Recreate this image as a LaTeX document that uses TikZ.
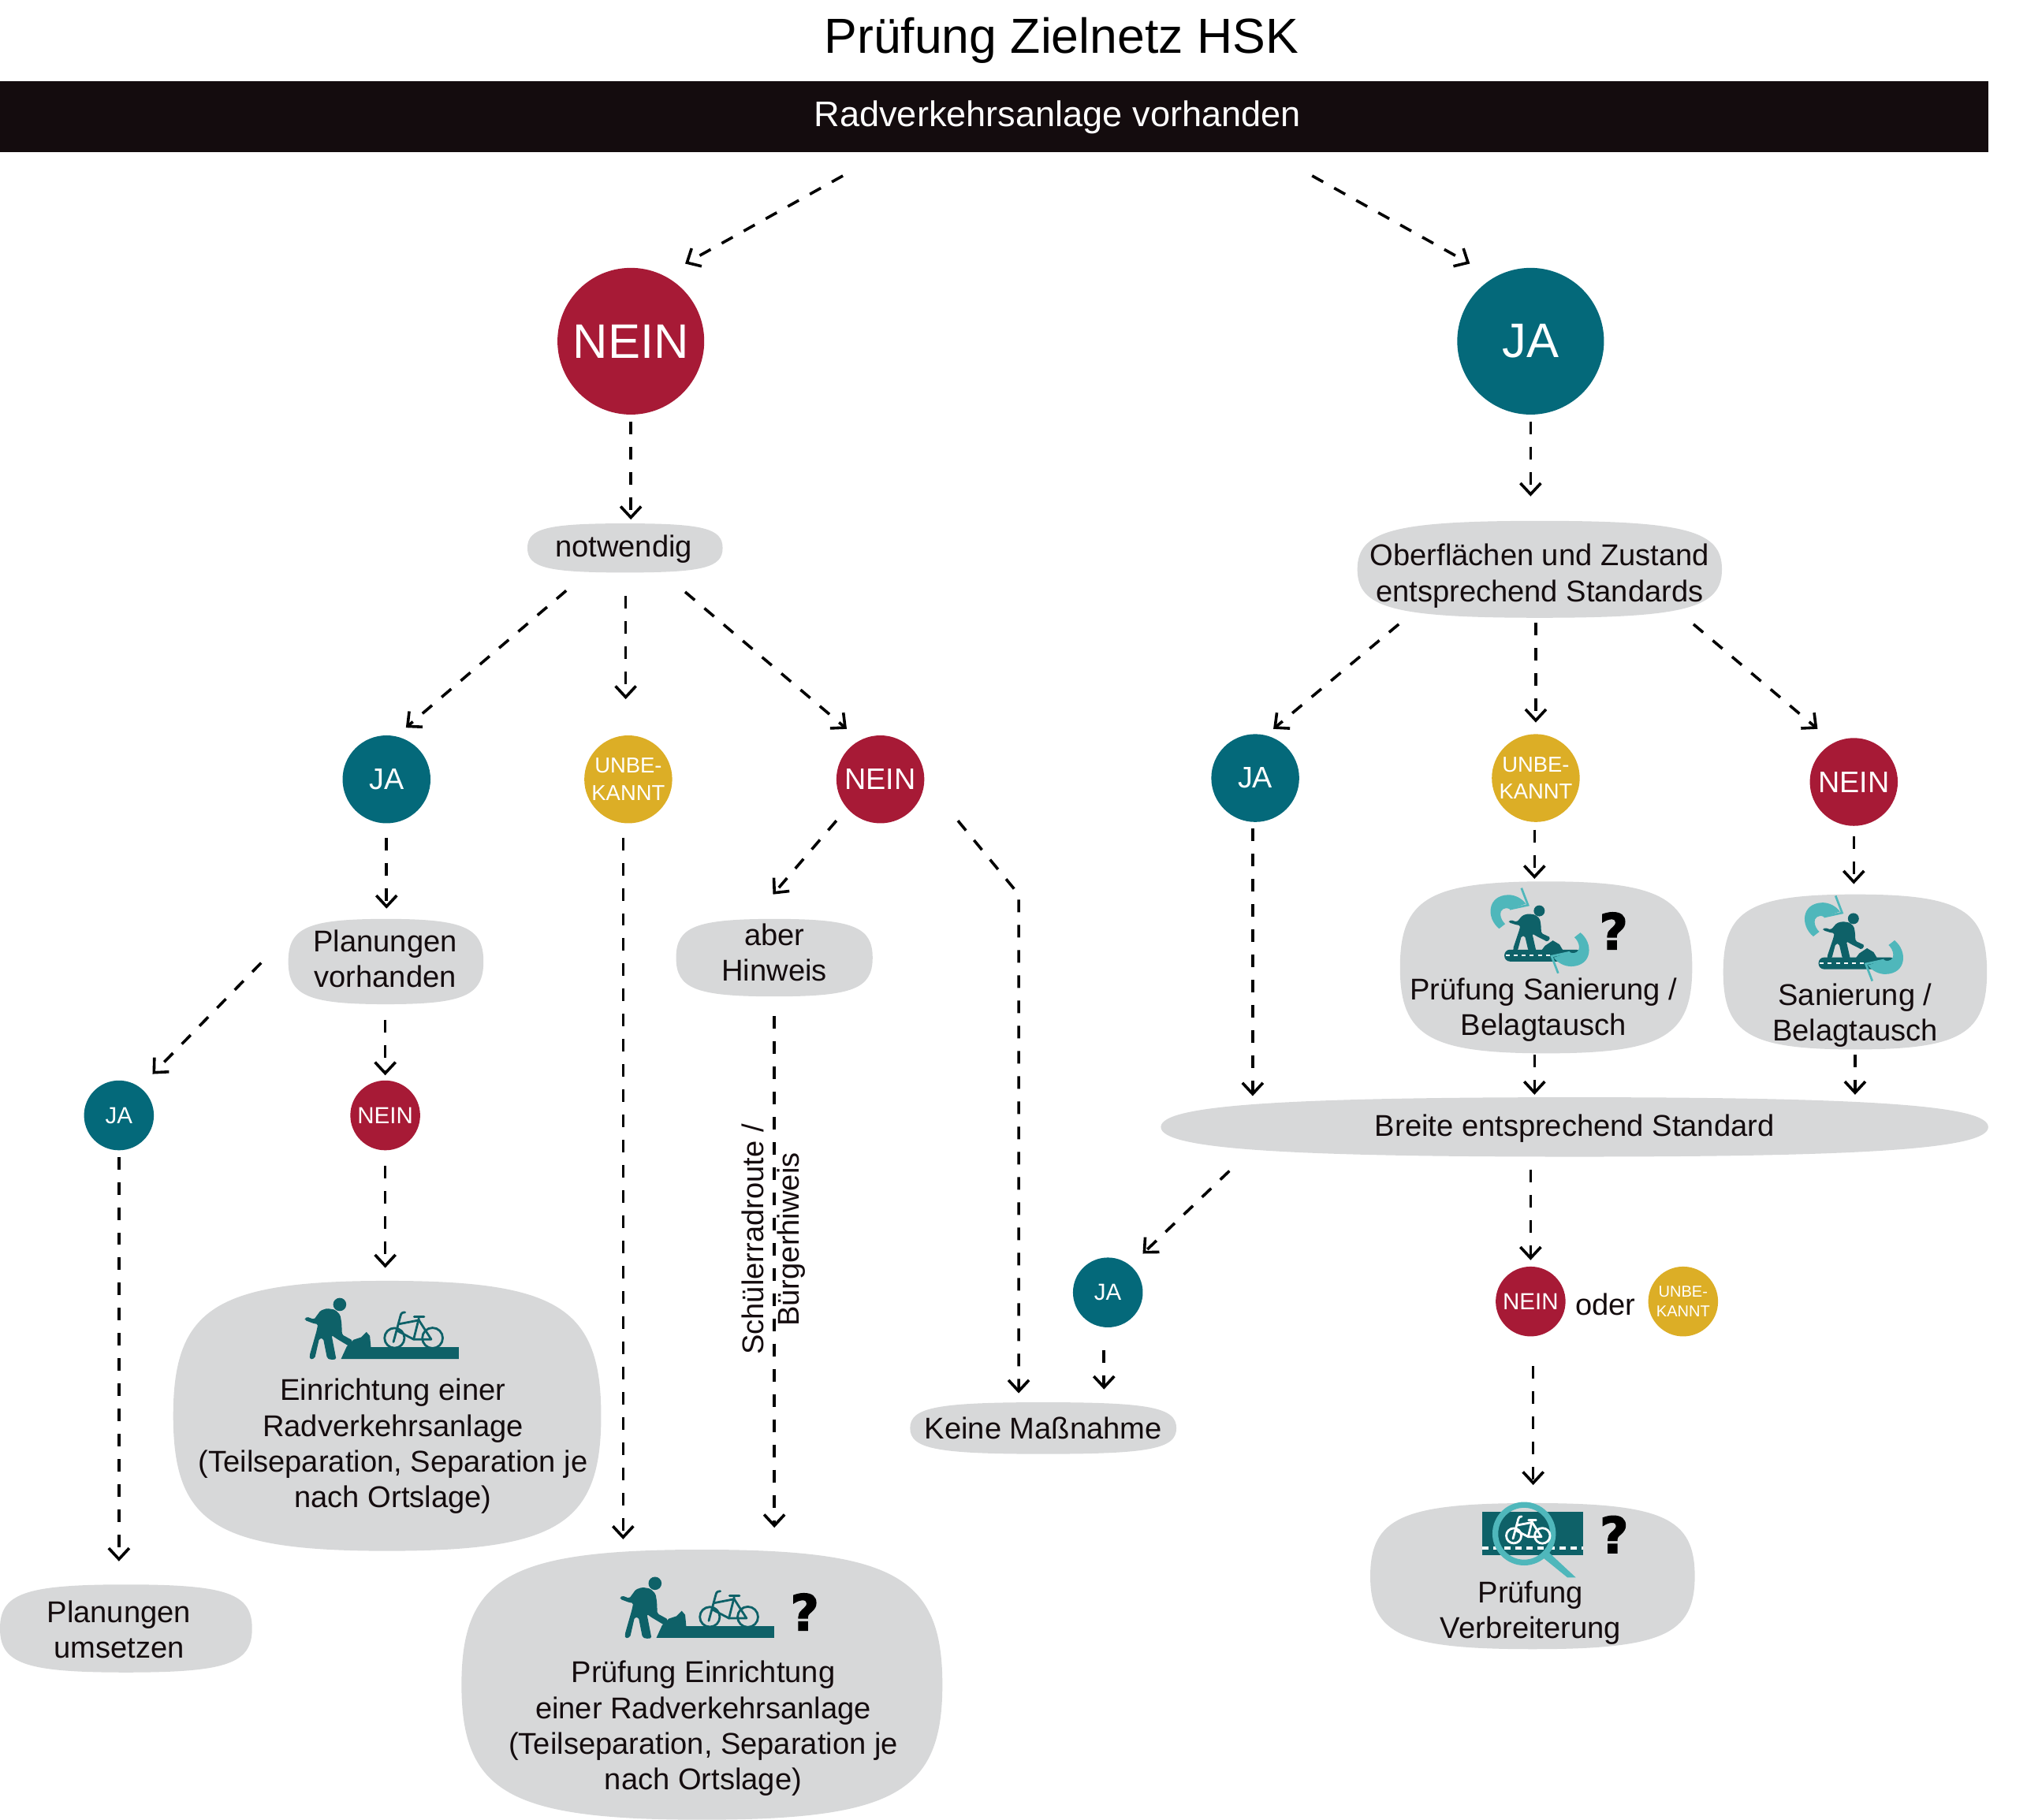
\documentclass[tikz,border=0pt]{standalone}
\usepackage{fontspec}
\setmainfont{Liberation Sans}
\newfontfamily\qfont[BoldFeatures={FakeBold=2}]{DejaVu Sans}
\usetikzlibrary{arrows.meta,calc}
\definecolor{cred}{HTML}{A71A36}
\definecolor{cteal}{HTML}{04697A}
\definecolor{cyell}{HTML}{DCAE26}
\definecolor{cgray}{HTML}{D7D8D9}
\definecolor{cicon}{HTML}{0E6168}
\definecolor{ccyan}{HTML}{4FB7BB}
\definecolor{cink}{HTML}{140C0E}
\def\uu{0.016397cm}
\tikzset{
  conn/.style={draw=black,line width=0.036cm,dash pattern=on 0.16cm off 0.16cm,-{Straight Barb[length=0.14cm,width=0.26cm]}},
  txt/.style={font=\fontsize{10.85}{12.9}\selectfont,text=cink,align=center,inner sep=0pt},
  shapebox/.style={inner sep=0pt,outer sep=0pt,draw=none},
  circbig/.style={circle,inner sep=0pt,outer sep=0pt,minimum size=113.5*\uu,text=white,font=\fontsize{17.5}{20}\selectfont},
  circmid/.style={circle,inner sep=0pt,outer sep=0pt,minimum size=68*\uu,text=white,align=center,font=\fontsize{10.75}{13}\selectfont},
  circsmall/.style={circle,inner sep=0pt,outer sep=0pt,minimum size=54*\uu,text=white,align=center,font=\fontsize{8.4}{10}\selectfont},
  unkmid/.style={circmid,fill=cyell,font=\fontsize{7.8}{9.8}\selectfont},
  unksmall/.style={circsmall,fill=cyell,font=\fontsize{5.7}{7}\selectfont},
  qmark/.style={font=\qfont\bfseries\fontsize{18}{20}\selectfont,text=black,inner sep=0pt},
  iconscope/.style={x=0.003333cm,y=-0.003333cm}
}
% blob: name, cx, cy, half width, half height, kappa
\newcommand\blob[6]{%
  \fill[cgray] (#2-#4,#3) .. controls (#2-#4,#3-#6*#5) and (#2-#6*#4,#3-#5) .. (#2,#3-#5)
     .. controls (#2+#6*#4,#3-#5) and (#2+#4,#3-#6*#5) .. (#2+#4,#3)
     .. controls (#2+#4,#3+#6*#5) and (#2+#6*#4,#3+#5) .. (#2,#3+#5)
     .. controls (#2-#6*#4,#3+#5) and (#2-#4,#3+#6*#5) .. (#2-#4,#3) -- cycle;
  \node[shapebox,minimum width=2*#4*\uu,minimum height=2*#5*\uu] (#1) at (#2,#3) {};
}
\newcommand\wkbody{%
  \fill[cicon,rounded corners=0.5pt] (80,128) -- (88,122) -- (115,132) -- (140,98) -- (165,90) -- (195,95) -- (215,115) -- (220,145) -- (222,190) -- (262,212) -- (250,235) -- (200,205) -- (182,192) -- (198,275) -- (200,284) -- (178,286) -- (165,280) -- (150,205) -- (135,205) -- (118,280) -- (100,285) -- (98,270) -- (125,175) -- (130,150) -- (115,148) -- (80,135) -- cycle;
}
\newcommand\bikefig[1]{%
  \begin{scope}[draw=#1,line width=0.028cm,line cap=round,line join=round]
  \draw (422,203) circle (38);
  \draw (567,203) circle (39);
  \draw (418,218) -- (445,118) .. controls (447,108) and (452,105) .. (462,105);
  \draw (437,150) -- (515,135);
  \draw (432,175) -- (495,208) -- (515,128);
  \draw (515,135) -- (562,208) -- (495,208);
  \draw (497,122) -- (535,122);
  \end{scope}
}
\newcommand\iconbuild{%
  \fill[cicon] (213,75) circle (25);
  \wkbody
  \fill[cicon] (218,283) -- (240,235) -- (265,210) -- (295,200) -- (315,180) -- (328,195) -- (332,238) -- (667,238) -- (667,283) -- cycle;
  \bikefig{cicon}
}
\newcommand\cyanarrow{%
  \fill[ccyan] (65,160) .. controls (15,120) and (18,33) .. (100,31) .. controls (125,31) and (150,43) .. (167,65) -- (105,85) .. controls (85,75) and (68,90) .. (70,105) .. controls (70,120) and (80,135) .. (88,142) -- cycle;
  \draw[ccyan,line width=0.027cm] (150,5) -- (175,70) -- (105,85);
}
\newcommand\iconrenew{%
  \fill[cicon] (218,92) circle (21);
  \begin{scope}[shift={(32.7,36.5)},xscale=0.87,yscale=0.74]\wkbody\end{scope}
  \fill[cicon] (225,245) -- (240,225) -- (270,205) -- (295,220) -- (310,245) -- cycle;
  \fill[cicon,rounded corners=2pt] (85,240) rectangle (380,285);
  \draw[white,line width=0.027cm,dash pattern=on 1.4pt off 1.5pt] (90,262) -- (378,262);
  \cyanarrow
  \begin{scope}[shift={(440,335)},xscale=-1,yscale=-1]\cyanarrow\end{scope}
}
\begin{document}
\begin{tikzpicture}[x=\uu,y=-\uu]
\useasboundingbox (0,0) rectangle (1568,1408);
% title + bar
\node[font=\fontsize{17.8}{21}\selectfont,text=black,inner sep=0pt] (title) at (821,31.5) {Prüfung Zielnetz HSK};
\node[shapebox,fill=cink,minimum width=1538*\uu,minimum height=55*\uu] (bar) at (769,90.5) {};
\node[font=\fontsize{12.85}{15}\selectfont,text=white,inner sep=0pt] (bartxt) at (818,90.5) {Radverkehrsanlage vorhanden};
% circles
\node[circbig,fill=cred] (nb) at (488,264) {NEIN};
\node[circbig,fill=cteal] (jb) at (1184,264) {JA};
\node[circmid,fill=cteal] (j1) at (299,603) {JA};
\node[unkmid] (u1) at (486,603) {UNBE-\\KANNT};
\node[circmid,fill=cred] (n1) at (681,603) {NEIN};
\node[circmid,fill=cteal] (j2) at (971,602) {JA};
\node[unkmid] (u2) at (1188,602) {UNBE-\\KANNT};
\node[circmid,fill=cred] (n2) at (1434,605) {NEIN};
\node[circsmall,fill=cteal] (j3) at (92,863) {JA};
\node[circsmall,fill=cred] (n3) at (298,863) {NEIN};
\node[circsmall,fill=cteal] (j4) at (857,1000) {JA};
\node[circsmall,fill=cred] (n4) at (1184,1007) {NEIN};
\node[unksmall] (u4) at (1302,1007) {UNBE-\\KANNT};
\node[txt] (oder) at (1242,1009) {oder};
% blobs
\blob{no}{483.5}{424}{75.5}{19}{0.8}
\blob{ob}{1191}{440.5}{141}{37.5}{0.8}
\blob{pv}{298.5}{744}{75.5}{33}{0.8}
\blob{ah}{599}{741}{76}{30}{0.8}
\blob{ps}{1196}{748.5}{113}{66.5}{0.8}
\blob{sa}{1435}{752}{102}{60}{0.8}
\blob{br}{1218}{872}{320}{23}{0.72}
\blob{ee}{299.5}{1095.5}{165.5}{104.5}{0.8}
\blob{pu}{97.5}{1260}{97.5}{34}{0.8}
\blob{pe}{543}{1303.5}{186}{104.5}{0.8}
\blob{km}{807}{1105}{103}{20}{0.8}
\blob{pb}{1185.5}{1219.5}{125.5}{56.5}{0.8}
% blob texts
\node[txt] (notxt) at (482.5,425) {notwendig};
\node[txt] (obtxt) at (1191,445.5) {Oberflächen und Zustand\\entsprechend Standards};
\node[txt] (pvtxt) at (298,742) {Planungen\\vorhanden};
\node[txt] (ahtxt) at (599,737) {aber\\Hinweis};
\node[txt] (pstxt) at (1194,781.5) {Prüfung Sanierung /\\Belagtausch};
\node[txt] (satxt) at (1435,785.5) {Sanierung /\\Belagtausch};
\node[txt] (brtxt) at (1218,873) {Breite entsprechend Standard};
\node[txt] (eetxt) at (304,1119) {Einrichtung einer\\Radverkehrsanlage\\(Teilseparation, Separation je\\nach Ortslage)};
\node[txt] (putxt) at (92,1261) {Planungen\\umsetzen};
\node[txt] (petxt) at (544,1337.5) {Prüfung Einrichtung\\einer Radverkehrsanlage\\(Teilseparation, Separation je\\nach Ortslage)};
\node[txt] (kmtxt) at (807,1105) {Keine Maßnahme};
\node[txt] (pbtxt) at (1184,1248) {Prüfung\\Verbreiterung};
\node[txt,rotate=90] (srtxt) at (598.5,959) {Schülerradroute /\\Bürgerhiweis};
% connectors
\draw[conn] ($(bar)+(-117,45.5)$) -- ($(nb)+(42,-60)$);
\draw[conn] ($(bar)+(246,45.5)$) -- ($(jb)+(-47,-60)$);
\draw[conn] ($(nb)+(0,62)$) -- ($(no)+(4.5,-22)$);
\draw[conn] ($(jb)+(0,62)$) -- ($(ob)+(-7,-56.5)$);
\draw[conn] ($(no)+(-45.5,33)$) -- ($(j1)+(15,-40)$);
\draw[conn] ($(no)+(0.5,37)$) -- ($(u1)+(-2,-62)$);
\draw[conn] ($(no)+(46.5,34)$) -- ($(n1)+(-26,-39)$);
\draw[conn] ($(ob)+(-109,42.5)$) -- ($(j2)+(14,-38)$);
\draw[conn] ($(ob)+(-3,41.5)$) -- ($(u2)+(0,-43)$);
\draw[conn] ($(ob)+(119,42.5)$) -- ($(n2)+(-28,-41)$);
\draw[conn] ($(j1)+(0,45)$) -- ($(pv)+(0.5,-41)$);
\draw[conn] ($(u1)+(-4,45)$) -- ($(pe)+(-61,-112.5)$);
\draw[conn] ($(n1)+(-34,32)$) -- ($(ah)+(-1,-49)$);
\coordinate (kink) at (788,692);
\draw[conn] ($(n1)+(60,32)$) -- (kink) -- ($(km)+(-19,-27)$);
\draw[conn] ($(j2)+(-2,39)$) -- ($(br)+(-249,-24)$);
\draw[conn] ($(u2)+(-1,40)$) -- ($(ps)+(-9,-68.5)$);
\draw[conn] ($(n2)+(0,42)$) -- ($(sa)+(-1,-68)$);
\draw[conn] ($(pv)+(-96.5,1)$) -- ($(j3)+(26,-32)$);
\draw[conn] ($(pv)+(-0.5,45)$) -- ($(n3)+(0,-31)$);
\draw[conn] ($(j3)+(0,32)$) -- ($(pu)+(-5.5,-52)$);
\draw[conn] ($(n3)+(0,39)$) -- ($(ee)+(-1.5,-114.5)$);
\draw[conn] ($(ah)+(0,45)$) -- ($(pe)+(56,-121.5)$);
\draw[conn] ($(ps)+(-9,67.5)$) -- ($(br)+(-31,-25)$);
\draw[conn] ($(sa)+(0,64)$) -- ($(br)+(217,-25)$);
\draw[conn] ($(br)+(-267,34)$) -- ($(j4)+(27,-30)$);
\draw[conn] ($(br)+(-34,33)$) -- ($(n4)+(0,-32)$);
\draw[conn] ($(j4)+(-3,45)$) -- ($(km)+(47,-30)$);
\draw[conn] ($(n4)+(2,50)$) -- ($(pb)+(0.5,-70.5)$);
% icons
\begin{scope}[shift={(219.6,994.1)},iconscope]\iconbuild\end{scope}
\begin{scope}[shift={(463.5,1209.9)},iconscope]\iconbuild\end{scope}
\begin{scope}[shift={(1146.5,686.1)},iconscope]\iconrenew\end{scope}
\begin{scope}[shift={(1389.5,692.1)},iconscope]\iconrenew\end{scope}
\begin{scope}[shift={(1128.3,1152.6)},iconscope]
  \fill[cicon] (90,85) rectangle (475,250);
  \draw[white,line width=0.047cm,dash pattern=on 2.3pt off 1.7pt] (90,223) -- (475,223);
  \draw[ccyan,line width=0.073cm] (250,168) circle (110);
  \fill[ccyan] (325,262) -- (345,240) -- (447,335) -- (415,335) -- cycle;
\end{scope}
\begin{scope}[shift={(1106.6,1157.3)},x=0.0025cm,y=-0.0025cm]\bikefig{white}\end{scope}
\node[qmark] (q1) at (622.5,1247.2) {?};
\node[qmark] (q2) at (1248.2,720.3) {?};
\node[qmark] (q3) at (1248.6,1187.2) {?};
\end{tikzpicture}
\end{document}
